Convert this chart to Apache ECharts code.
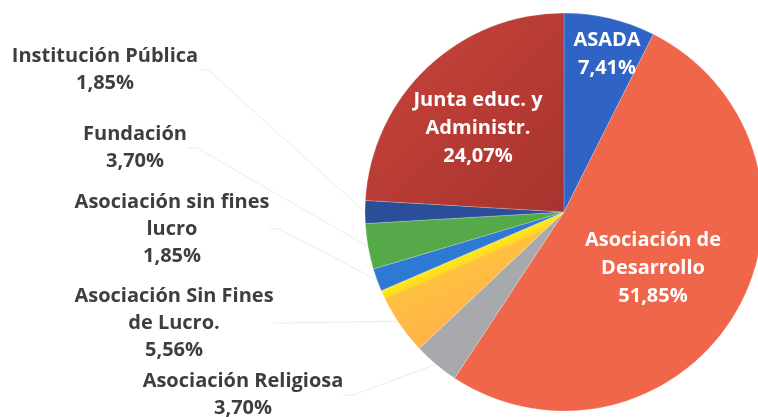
<!DOCTYPE html>
<html>
<head>
<meta charset="utf-8">
<script src="https://cdn.jsdelivr.net/npm/echarts@6/dist/echarts.min.js"></script>
<style>
  html, body { margin: 0; padding: 0; background: #fff; }
  #chart { width: 758px; height: 417px; }
</style>
</head>
<body>
<div id="chart"></div>
<script>
  // categorias y porcentajes (sentido horario desde las 12)
  const categories = [
    'ASADA',
    'Asociación de\nDesarrollo',
    'Asociación Religiosa',
    'Asociación Sin Fines\nde Lucro.',
    'Asociación sin fines\nlucro',
    'Fundación',
    'Institución Pública',
    'Junta educ. y\nAdministr.'
  ]
  const values = [7.41, 51.85, 3.70, 5.56, 1.85, 3.70, 1.85, 24.07]
  const insideLabels = ['ASADA', 'Asociación de\nDesarrollo', 'Junta educ. y\nAdministr.']

  const colors = [
    '#2F63C6',
    '#F0664A',
    '#A8A9AC',
    // franja amarilla sobre el borde superior de la porcion
    new echarts.graphic.LinearGradient(564, 212, 591, 274, [
      { offset: 0, color: '#FFE81A' },
      { offset: 0.1, color: '#FFDC22' },
      { offset: 0.14, color: '#FFC040' },
      { offset: 1, color: '#FFB24A' }
    ], true),
    '#2E79D4',
    '#56A948',
    '#2A4F98',
    new echarts.graphic.LinearGradient(0, 0, 1, 1, [
      { offset: 0, color: '#C9453C' },
      { offset: 1, color: '#A8332E' }
    ])
  ]

  // centro de cada bloque de texto, mismo orden que categories
  const labelPos = [
    [607, 54],
    [653, 268],
    [243, 395],
    [174, 323],
    [172, 229],
    [135, 148],
    [105, 70],
    [478, 128]
  ]

  const fmt = v => v.toFixed(2).replace('.', ',') + '%'

  const chart = echarts.init(document.getElementById('chart'))
  chart.setOption({
    animation: false,
    series: [{
      type: 'pie',
      center: [564, 212],
      radius: 199,
      startAngle: 90,
      clockwise: true,
      itemStyle: {
        borderColor: 'rgba(255,255,255,0.35)',
        borderWidth: 0.6
      },
      label: {
        show: true,
        position: 'outside',
        formatter: p => p.name + '\n' + fmt(p.value),
        color: '#3e3e3e',
        fontFamily: 'Open Sans',
        fontWeight: 'bold',
        fontSize: 20,
        lineHeight: 27,
        align: 'center'
      },
      labelLine: {
        show: true,
        length: 10,
        length2: 10,
        lineStyle: { color: '#ebebeb', width: 1 }
      },
      labelLayout: p => {
        const pos = labelPos[p.dataIndex]
        return { x: pos[0], y: pos[1], align: 'center', verticalAlign: 'middle', hideOverlap: false }
      },
      data: categories.map((name, i) => {
        const inside = insideLabels.indexOf(name) >= 0
        return {
          name,
          value: values[i],
          itemStyle: { color: colors[i] },
          label: inside ? { position: 'inner', color: '#fff', lineHeight: 28 } : {},
          labelLine: inside ? { show: false } : {}
        }
      })
    }]
  })
</script>
</body>
</html>
